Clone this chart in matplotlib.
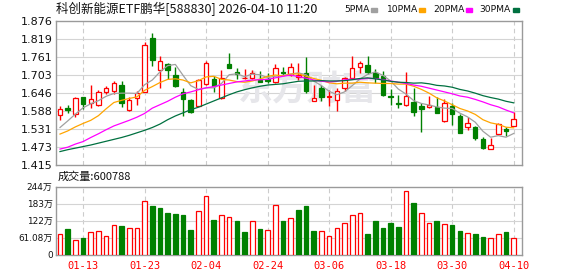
import numpy as np
import matplotlib
matplotlib.use('Agg')
import matplotlib.pyplot as plt
from matplotlib.patches import Rectangle

# 日K数据 (读自图片)
opens = [1.575, 1.596, 1.579, 1.632, 1.614, 1.608, 1.650, 1.653, 1.670, 1.590,
         1.628, 1.650, 1.821, 1.719, 1.739, 1.702, 1.649, 1.623, 1.605, 1.673,
         1.691, 1.630, 1.737, 1.712, 1.693, 1.693, 1.687, 1.691, 1.681, 1.714,
         1.702, 1.697, 1.710, 1.621, 1.661, 1.634, 1.624, 1.663, 1.693, 1.729,
         1.734, 1.710, 1.700, 1.637, 1.613, 1.607, 1.617, 1.603, 1.600, 1.601,
         1.557, 1.603, 1.571, 1.538, 1.537, 1.499, 1.467, 1.514, 1.531, 1.539]
highs = [1.603, 1.607, 1.632, 1.634, 1.672, 1.654, 1.669, 1.684, 1.684, 1.634,
         1.651, 1.809, 1.837, 1.765, 1.742, 1.730, 1.663, 1.626, 1.691, 1.748,
         1.700, 1.718, 1.774, 1.726, 1.721, 1.719, 1.716, 1.708, 1.737, 1.728,
         1.742, 1.741, 1.760, 1.670, 1.672, 1.654, 1.663, 1.698, 1.765, 1.749,
         1.765, 1.721, 1.716, 1.659, 1.640, 1.712, 1.660, 1.615, 1.636, 1.634,
         1.626, 1.615, 1.579, 1.568, 1.541, 1.504, 1.501, 1.550, 1.536, 1.584]
lows = [1.560, 1.581, 1.569, 1.594, 1.598, 1.603, 1.641, 1.642, 1.602, 1.588,
        1.608, 1.648, 1.731, 1.662, 1.689, 1.666, 1.573, 1.582, 1.603, 1.670,
        1.650, 1.625, 1.725, 1.691, 1.691, 1.689, 1.681, 1.677, 1.676, 1.702,
        1.700, 1.688, 1.645, 1.621, 1.619, 1.605, 1.589, 1.652, 1.689, 1.710,
        1.706, 1.677, 1.637, 1.606, 1.599, 1.605, 1.573, 1.520, 1.596, 1.582,
        1.552, 1.542, 1.519, 1.526, 1.496, 1.466, 1.467, 1.514, 1.508, 1.539]
closes = [1.594, 1.592, 1.631, 1.611, 1.625, 1.648, 1.660, 1.677, 1.615, 1.623,
          1.647, 1.800, 1.750, 1.747, 1.719, 1.667, 1.626, 1.586, 1.688, 1.742,
          1.668, 1.695, 1.727, 1.705, 1.695, 1.710, 1.681, 1.683, 1.726, 1.710,
          1.729, 1.704, 1.651, 1.628, 1.634, 1.637, 1.652, 1.694, 1.726, 1.740,
          1.712, 1.693, 1.640, 1.634, 1.609, 1.636, 1.586, 1.594, 1.608, 1.583,
          1.615, 1.578, 1.519, 1.549, 1.501, 1.470, 1.480, 1.545, 1.523, 1.563]
# 成交量 (万)
volumes = [75, 94, 54, 62, 82, 86, 68, 107, 104, 96,
           96, 193, 173, 169, 151, 148, 144, 90, 157, 211,
           126, 143, 136, 123, 83, 121, 94, 90, 180, 123,
           132, 162, 175, 86, 86, 67, 95, 114, 142, 150,
           75, 121, 96, 114, 100, 227, 186, 150, 114, 121,
           111, 107, 86, 79, 75, 64, 61, 75, 82, 60.08]

ma5 = [1.535, 1.556, 1.578, 1.598, 1.611, 1.621, 1.635, 1.644, 1.645, 1.645,
       1.644, 1.672, 1.687, 1.713, 1.733, 1.737, 1.702, 1.669, 1.657, 1.662,
       1.662, 1.676, 1.704, 1.707, 1.698, 1.706, 1.704, 1.695, 1.699, 1.702,
       1.706, 1.710, 1.704, 1.684, 1.669, 1.651, 1.640, 1.649, 1.669, 1.690,
       1.705, 1.713, 1.702, 1.684, 1.658, 1.642, 1.621, 1.612, 1.607, 1.601,
       1.597, 1.596, 1.581, 1.569, 1.552, 1.523, 1.504, 1.509, 1.504, 1.516]
ma10 = [1.514, 1.524, 1.537, 1.548, 1.558, 1.573, 1.595, 1.615, 1.622, 1.628,
        1.633, 1.654, 1.666, 1.679, 1.689, 1.691, 1.687, 1.678, 1.685, 1.697,
        1.699, 1.689, 1.687, 1.682, 1.680, 1.684, 1.690, 1.699, 1.703, 1.700,
        1.706, 1.707, 1.699, 1.692, 1.686, 1.678, 1.675, 1.677, 1.677, 1.680,
        1.678, 1.677, 1.676, 1.676, 1.674, 1.674, 1.667, 1.657, 1.645, 1.630,
        1.620, 1.608, 1.596, 1.588, 1.577, 1.560, 1.550, 1.545, 1.536, 1.534]
ma20 = [1.466, 1.472, 1.482, 1.490, 1.503, 1.515, 1.528, 1.540, 1.549, 1.558,
        1.568, 1.580, 1.597, 1.608, 1.619, 1.632, 1.643, 1.649, 1.656, 1.662,
        1.666, 1.671, 1.676, 1.681, 1.684, 1.687, 1.688, 1.689, 1.694, 1.699,
        1.703, 1.698, 1.693, 1.687, 1.683, 1.681, 1.683, 1.688, 1.690, 1.690,
        1.692, 1.692, 1.688, 1.684, 1.680, 1.676, 1.671, 1.667, 1.661, 1.655,
        1.649, 1.643, 1.636, 1.632, 1.625, 1.617, 1.608, 1.601, 1.591, 1.582]
ma30 = [1.458, 1.464, 1.469, 1.474, 1.479, 1.485, 1.491, 1.497, 1.503, 1.510,
        1.518, 1.526, 1.535, 1.546, 1.560, 1.572, 1.582, 1.592, 1.600, 1.610,
        1.620, 1.630, 1.640, 1.649, 1.656, 1.662, 1.667, 1.671, 1.673, 1.675,
        1.679, 1.683, 1.684, 1.684, 1.685, 1.684, 1.684, 1.685, 1.688, 1.692,
        1.694, 1.691, 1.687, 1.683, 1.680, 1.679, 1.677, 1.678, 1.675, 1.670,
        1.668, 1.664, 1.657, 1.652, 1.645, 1.637, 1.631, 1.626, 1.619, 1.614]

date_labels = ['01-13', '01-23', '02-04', '02-24', '03-06', '03-18', '03-30', '04-10']
date_pos = [3, 11, 19, 27, 35, 43, 51, 59]
price_labels = ['1.415', '1.473', '1.531', '1.588', '1.646', '1.703', '1.761', '1.819', '1.876']
vol_labels = ['0', '61.08万', '122万', '183万', '244万']
vol_ticks = [0, 61.08, 122.16, 183.24, 244.32]

RED = '#ff0000'
GREEN = '#008000'
ma_colors = ['#a0a0a0', '#ffa500', '#ff00ff', '#007040']
CJK = ['Noto Sans CJK SC', 'DejaVu Sans']
W, H = 578, 276

fig = plt.figure(figsize=(W / 100, H / 100), dpi=100)
ax = fig.add_axes([56 / W, 1 - 165 / H, 466 / W, 144 / H])
axv = fig.add_axes([56 / W, 1 - 255 / H, 466 / W, 68.5 / H])

x = np.arange(len(closes))
o, h, l, c = np.array(opens), np.array(highs), np.array(lows), np.array(closes)
up = c >= o
bot = np.minimum(o, c)
bh = np.maximum(np.abs(c - o), 0.0015)

# 网格
for a in (ax, axv):
    for xd in date_pos:
        a.axvline(xd, color='#cccccc', lw=0.8, ls=(0, (4, 3)), zorder=0.5)
    for s in a.spines.values():
        s.set_color('#9a9a9a')
        s.set_linewidth(1)
    a.set_xlim(-0.52, 60.08)

yticks = np.linspace(1.415, 1.876, 9)
for yv in yticks[1:-1]:
    ax.axhline(yv, color='#d4d4d4', lw=0.8, zorder=0.5)
for yv in vol_ticks[1:-1]:
    axv.axhline(yv, color='#d4d4d4', lw=0.8, zorder=0.5)

# 水印
ax.text(0.54, 0.53, '东方财富', transform=ax.transAxes, fontsize=25, fontweight='bold',
        color='#e6e6ea', ha='center', va='center', family=CJK, zorder=0.8)

# K线
ax.vlines(x[up], l[up], h[up], color=RED, lw=1, zorder=2)
ax.vlines(x[~up], l[~up], h[~up], color=GREEN, lw=1, zorder=2)
ax.bar(x[up], bh[up], 0.58, bottom=bot[up], facecolor='white', edgecolor=RED, lw=0.9, zorder=3)
ax.bar(x[~up], bh[~up], 0.58, bottom=bot[~up], facecolor=GREEN, edgecolor=GREEN, lw=0.9, zorder=3)

for ma, col in zip([ma5, ma10, ma20, ma30], ma_colors):
    ax.plot(x, ma, color=col, lw=0.9, zorder=4)

ax.set_ylim(1.415, 1.876)
ax.set_yticks(yticks, price_labels, fontsize=8, color='#111111')
ax.set_xticks([])
ax.tick_params(axis='y', length=0, pad=2.5)

# 成交量
v = np.array(volumes)
prev = np.r_[o[0], c[:-1]]
vup = c >= prev
axv.bar(x[vup], v[vup], 0.6, facecolor='white', edgecolor=RED, lw=0.9, zorder=3)
axv.bar(x[~vup], v[~vup], 0.6, facecolor=GREEN, edgecolor=GREEN, lw=0.9, zorder=3)
axv.set_ylim(0, 244.32)
axv.set_yticks(vol_ticks, vol_labels, fontsize=6.4, color='#111111',
               family=['DejaVu Sans', 'Noto Sans CJK SC'])
axv.set_xticks(date_pos, date_labels, fontsize=7.5, color=RED, family='DejaVu Sans Mono')
axv.tick_params(axis='y', length=0, pad=2.5)
axv.tick_params(axis='x', length=0, pad=4)

# 标题和图例
fig.text(56 / W, 1 - 9 / H, '科创新能源ETF鹏华[588830] 2026-04-10 11:20', fontsize=9,
         family=CJK, va='center', ha='left', color='#111111')
fig.text(58 / W, 1 - 177 / H, '成交量:600788', fontsize=8, family=CJK,
         va='center', ha='left', color='#111111')
leg = [('5PMA', 344, 371), ('10PMA', 387, 419), ('20PMA', 433, 466), ('30PMA', 479, 513)]
for (name, tx, sx), col in zip(leg, ma_colors):
    fig.text(tx / W, 1 - 10 / H, name, fontsize=6.6, va='center', ha='left', color='#111111')
    fig.add_artist(Rectangle((sx / W, 1 - 12 / H), 6 / W, 4 / H,
                             transform=fig.transFigure, color=col))

fig.savefig('out.png', dpi=100)
